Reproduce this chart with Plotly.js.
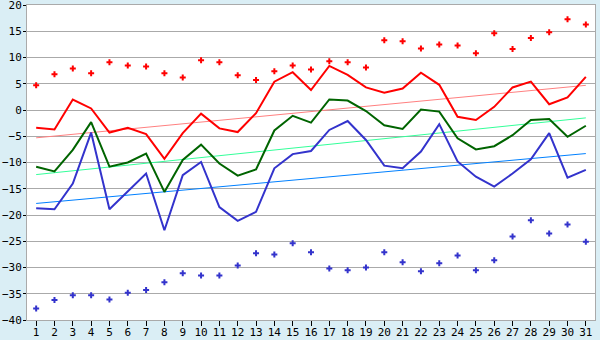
<!DOCTYPE html>
<html><head><meta charset="utf-8">
<script src="https://cdn.plot.ly/plotly-3.0.1.min.js"></script>
<style>html,body{margin:0;padding:0;background:#daeef5;}</style>
</head><body>
<div id="chart" style="width:600px;height:340px;"></div>
<script>
const days = Array.from({length:31},(_,i)=>i+1);
const maxAbs = [4.7,6.8,7.9,7.0,9.1,8.5,8.3,7.0,6.2,9.5,9.1,6.6,5.7,7.4,8.5,7.7,9.3,9.1,8.1,13.3,13.1,11.7,12.5,12.3,10.8,14.6,11.6,13.7,14.8,17.3,16.3];
const maxAvg = [-3.4,-3.7,2.0,0.3,-4.3,-3.4,-4.6,-9.3,-4.4,-0.7,-3.5,-4.2,-0.6,5.4,7.2,3.8,8.4,6.7,4.3,3.3,4.1,7.1,4.8,-1.3,-1.9,0.6,4.3,5.4,1.1,2.4,6.3];
const meanAvg = [-10.8,-11.7,-7.6,-2.3,-10.8,-10.0,-8.3,-15.6,-9.5,-6.6,-10.2,-12.5,-11.3,-3.9,-1.1,-2.4,2.0,1.8,-0.2,-2.9,-3.6,0.1,-0.3,-5.4,-7.5,-6.9,-4.8,-1.9,-1.7,-5.1,-3.0];
const minAvg = [-18.7,-18.9,-14.0,-4.3,-18.9,-15.5,-12.1,-22.9,-12.4,-9.9,-18.5,-21.1,-19.4,-11.1,-8.4,-7.8,-3.8,-2.1,-5.7,-10.6,-11.1,-7.9,-2.7,-9.8,-12.7,-14.6,-12.1,-9.4,-4.4,-12.9,-11.4];
const minAbs = [-37.8,-36.2,-35.3,-35.3,-36.1,-34.8,-34.3,-32.8,-31.1,-31.5,-31.5,-29.6,-27.3,-27.5,-25.4,-27.1,-30.2,-30.5,-30.0,-27.1,-29.0,-30.7,-29.2,-27.7,-30.5,-28.6,-24.1,-21.0,-23.5,-21.8,-25.1];
const trendX = [1,31];
const maxTrend = [-5.3,4.7];
const meanTrend = [-12.3,-1.5];
const minTrend = [-17.8,-8.3];

const traces = [
  {x:trendX,y:maxTrend,mode:'lines',line:{color:'#ff8080',width:1}},
  {x:trendX,y:meanTrend,mode:'lines',line:{color:'#33ff99',width:1}},
  {x:trendX,y:minTrend,mode:'lines',line:{color:'#0080ff',width:1}},
  {x:days,y:maxAvg,mode:'lines',line:{color:'#ff0000',width:2}},
  {x:days,y:meanAvg,mode:'lines',line:{color:'#006400',width:2}},
  {x:days,y:minAvg,mode:'lines',line:{color:'#3333cc',width:2}},
  {x:days,y:maxAbs,mode:'markers',marker:{color:'#ff0000',symbol:'cross',size:5}},
  {x:days,y:minAbs,mode:'markers',marker:{color:'#3333cc',symbol:'cross',size:5}}
];
const layout = {
  width:600,height:340,
  margin:{l:27,r:5,t:5,b:20},
  paper_bgcolor:'#daeef5',plot_bgcolor:'#ffffff',
  showlegend:false,
  font:{family:'DejaVu Sans Mono',size:11,color:'#000'},
  xaxis:{range:[0.5,31.5],tickvals:days,ticktext:days.map(String),ticks:'outside',ticklen:5,tickcolor:'#000',
    ticklabeloverflow:'allow',ticklabelstandoff:-3,
    showgrid:false,zeroline:false,showline:true,linecolor:'#aaaaaa',linewidth:1,mirror:true,tickfont:{size:11}},
  yaxis:{range:[-40,20],dtick:5,ticks:'outside',ticklen:3,tickcolor:'#000',gridcolor:'#aaaaaa',gridwidth:1,
    ticklabeloverflow:'allow',ticklabelstandoff:-1,
    zeroline:false,showline:true,linecolor:'#aaaaaa',linewidth:1,mirror:true,tickfont:{size:11}}
};
Plotly.newPlot('chart',traces,layout,{staticPlot:true,displayModeBar:false});
</script>
</body></html>
